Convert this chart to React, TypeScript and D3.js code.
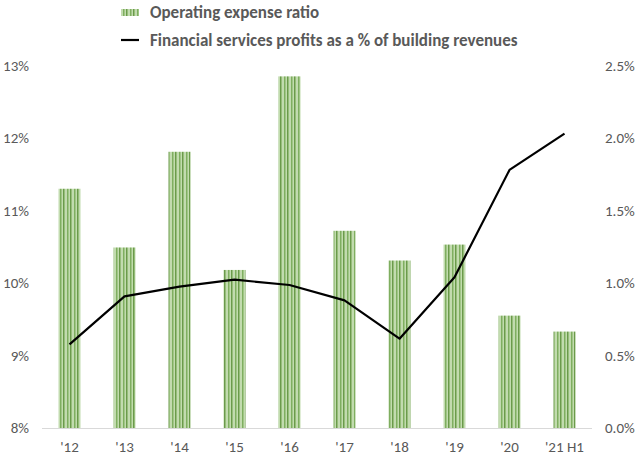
import React from "react";
import * as d3 from "d3";

const categories = ["'12", "'13", "'14", "'15", "'16", "'17", "'18", "'19", "'20", "'21 H1"];
const opexRatio = [11.3, 10.49, 11.81, 10.18, 12.85, 10.72, 10.31, 10.53, 9.55, 9.33];
const fsProfits = [0.577, 0.908, 0.975, 1.023, 0.986, 0.88, 0.616, 1.04, 1.78, 2.03];
const leftTicks = [8, 9, 10, 11, 12, 13];
const rightTicks = [0, 0.5, 1.0, 1.5, 2.0, 2.5];
const legendLabels = ["Operating expense ratio", "Financial services profits as a % of building revenues"];

const W = 640, H = 461;
const left = 42, right = 592, top = 65.5, bottom = 428;

export default function App() {
  const x = d3.scaleBand<string>().domain(categories).range([left, right]).paddingInner(0.6).paddingOuter(0.3);
  const yL = d3.scaleLinear().domain([8, 13]).range([bottom, top]);
  const yR = d3.scaleLinear().domain([0, 2.5]).range([bottom, top]);
  const line = d3.line<number>()
    .x((_, i) => (x(categories[i]) as number) + x.bandwidth() / 2)
    .y((d) => yR(d));
  const font = "Calibri, Carlito, Lato, 'Open Sans', sans-serif";
  const gray = "#595959";
  return (
    <svg width={W} height={H} style={{ position: "absolute", left: 0, top: 0 }} fontFamily={font}>
      <defs>
        <pattern id="stripes" patternUnits="userSpaceOnUse" width="7" height="10">
          <rect width="7" height="10" fill="#a9cc8f" />
          <rect x="0" width="1.3" height="10" fill="#6b9a4b" />
          <rect x="2.5" width="1" height="10" fill="#dcebd0" />
          <rect x="4" width="1.2" height="10" fill="#7fae60" />
          <rect x="6" width="0.8" height="10" fill="#c8e0b6" />
        </pattern>
      </defs>
      <rect width={W} height={H} fill="#fff" />
      {categories.map((c, i) => (
        <rect key={c} x={x(c)} y={yL(opexRatio[i])} width={x.bandwidth()} height={bottom - yL(opexRatio[i])} fill="url(#stripes)" />
      ))}
      <line x1={left} x2={right} y1={bottom + 0.5} y2={bottom + 0.5} stroke="#d9d9d9" strokeWidth={1} />
      <path d={line(fsProfits) || ""} fill="none" stroke="#000" strokeWidth={2.2} strokeLinejoin="round" />
      {leftTicks.map((t) => (
        <text key={t} x={29} y={yL(t)} dy="0.35em" textAnchor="end" fontSize={15} fill={gray}>{t}%</text>
      ))}
      {rightTicks.map((t) => (
        <text key={t} x={605} y={yR(t)} dy="0.35em" textAnchor="start" fontSize={15} fill={gray}>{t.toFixed(1)}%</text>
      ))}
      {categories.map((c) => (
        <text key={c} x={(x(c) as number) + x.bandwidth() / 2} y={447} dy="0.35em" textAnchor="middle" fontSize={15} fill={gray}>{c}</text>
      ))}
      <rect x={121} y={9} width={18} height={7} fill="url(#stripes)" />
      <text x={150} y={12} dy="0.35em" fontSize={17} fontWeight={600} fill={gray}>{legendLabels[0]}</text>
      <line x1={121} x2={139} y1={40} y2={40} stroke="#000" strokeWidth={2.2} />
      <text x={150} y={40} dy="0.35em" fontSize={17} fontWeight={600} fill={gray}>{legendLabels[1]}</text>
    </svg>
  );
}
